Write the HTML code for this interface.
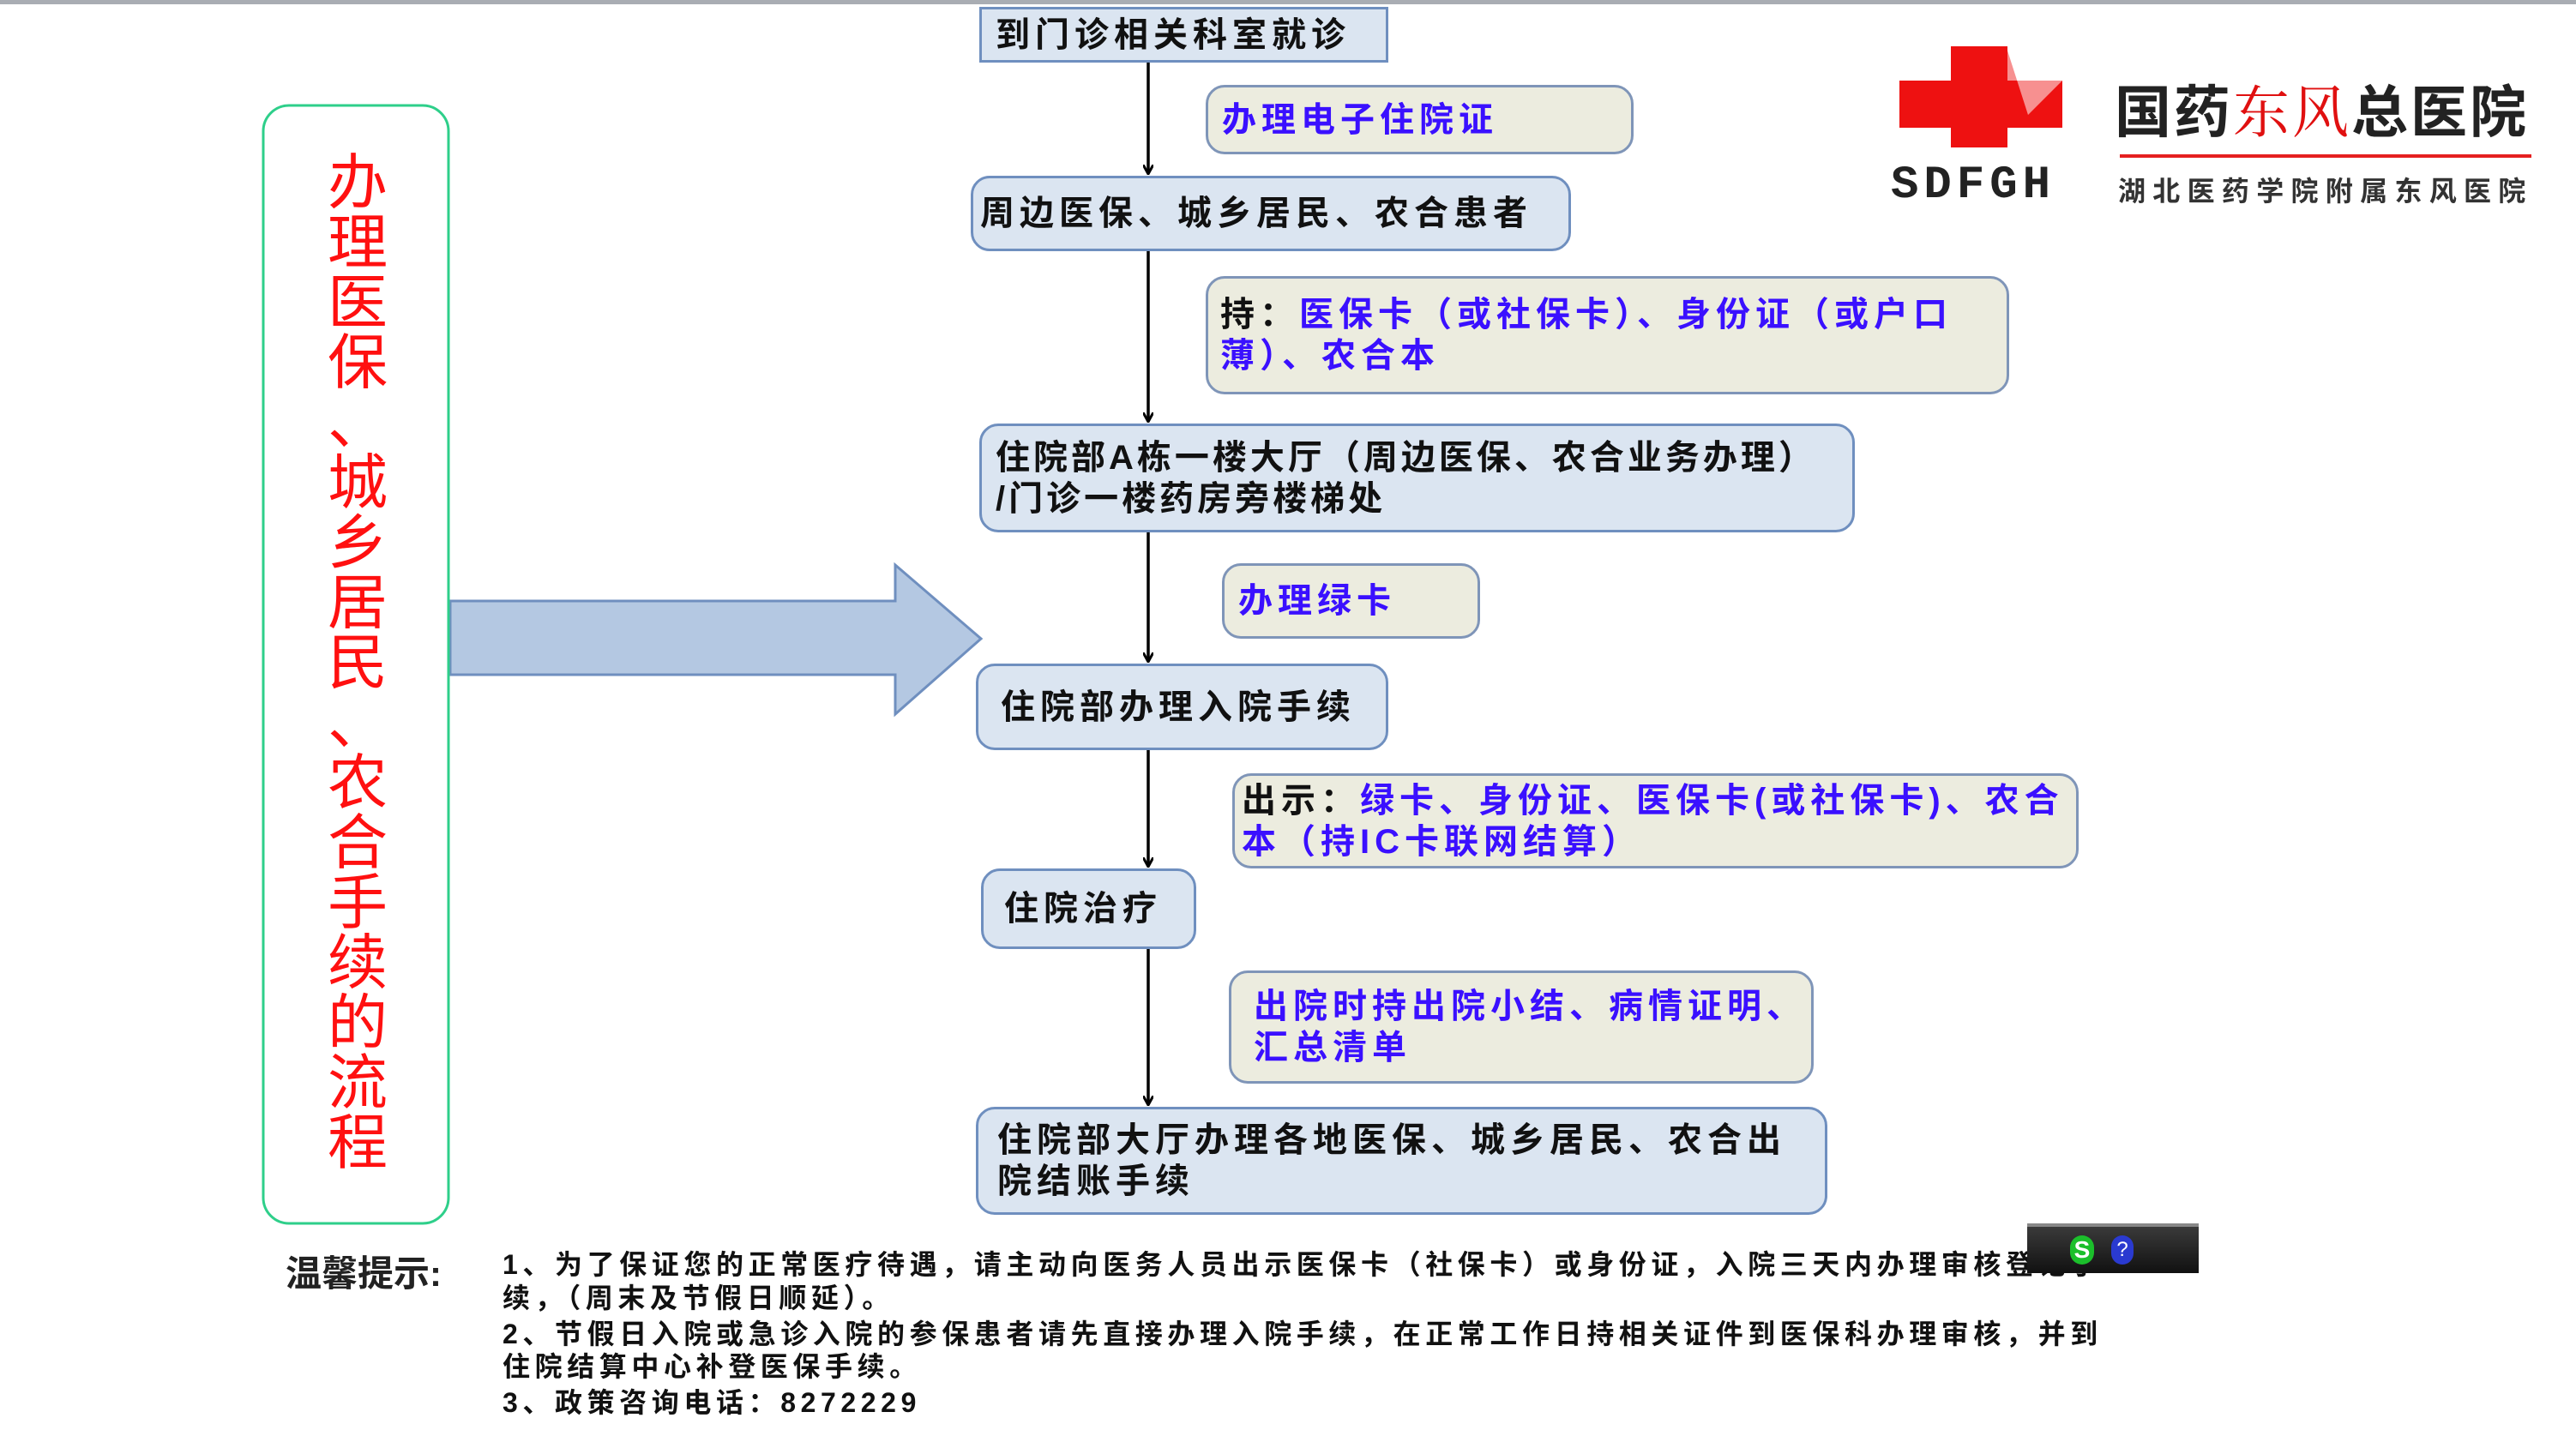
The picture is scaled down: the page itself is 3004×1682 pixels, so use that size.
<!DOCTYPE html>
<html><head><meta charset="utf-8"><style>
*{margin:0;padding:0;box-sizing:border-box}
body{width:3004px;height:1682px;background:#fff;position:relative;overflow:hidden;font-family:"Liberation Sans","Noto Sans CJK SC",sans-serif}
.b{position:absolute;border:3px solid #6f8fbf;background:#dbe5f1;border-radius:22px;font-weight:bold;color:#111;font-size:40px;letter-spacing:6px;line-height:48px;padding:0 0 0 16px;display:flex;align-items:center;white-space:nowrap}
.y{position:absolute;border:3px solid #7f95b8;background:#ececdf;border-radius:22px;font-weight:bold;color:#3a10ff;font-size:40px;letter-spacing:6px;line-height:48px;padding:0 0 0 16px;display:flex;align-items:center;white-space:nowrap}
.k{color:#111}
.n{position:absolute;left:586px;font-size:32px;letter-spacing:5.6px;font-weight:bold;color:#111;white-space:nowrap;line-height:40px}
</style></head><body>
<div style="position:absolute;left:0;top:0;width:3004px;height:5px;background:#a9adb3"></div>

<svg style="position:absolute;left:0;top:0" width="3004" height="1682">
<defs><marker id="a" markerWidth="12" markerHeight="12" refX="10" refY="6" orient="auto" markerUnits="userSpaceOnUse"><path d="M0,0 L11,6 L0,12" fill="none" stroke="#000" stroke-width="3"/></marker></defs>
<g stroke="#000" stroke-width="3.5" marker-end="url(#a)">
<line x1="1339" y1="73" x2="1339" y2="202"/>
<line x1="1339" y1="293" x2="1339" y2="491"/>
<line x1="1339" y1="621" x2="1339" y2="771"/>
<line x1="1339" y1="875" x2="1339" y2="1010"/>
<line x1="1339" y1="1107" x2="1339" y2="1288"/>
</g>
<path d="M525,701 L1044,701 L1044,659 L1144,745 L1044,833 L1044,787 L525,787 Z" fill="#b4c8e2" stroke="#6f8fbf" stroke-width="3"/>
<rect x="307" y="123" width="216" height="1304" rx="30" fill="#fff" stroke="#2ecf8a" stroke-width="3"/>
</svg>

<div style="position:absolute;left:377px;top:178px;width:80px;font-size:70px;line-height:70px;color:#ff1010;text-align:center">办<br>理<br>医<br>保<br>、<br>城<br>乡<br>居<br>民<br>、<br>农<br>合<br>手<br>续<br>的<br>流<br>程</div>

<div class="b" style="left:1142px;top:8px;width:477px;height:65px;border-radius:0">到门诊相关科室就诊</div>
<div class="y" style="left:1406px;top:99px;width:499px;height:81px">办理电子住院证</div>
<div class="b" style="left:1132px;top:205px;width:700px;height:88px;padding-left:8px">周边医保、城乡居民、农合患者</div>
<div class="y" style="left:1406px;top:322px;width:937px;height:138px;padding-left:14px"><div><span class="k">持：</span>医保卡（或社保卡）、身份证（或户口<br>薄）、农合本</div></div>
<div class="b" style="left:1142px;top:494px;width:1021px;height:127px;letter-spacing:4px"><div>住院部A栋一楼大厅（周边医保、农合业务办理）<br>/门诊一楼药房旁楼梯处</div></div>
<div class="y" style="left:1425px;top:657px;width:301px;height:88px">办理绿卡</div>
<div class="b" style="left:1138px;top:774px;width:481px;height:101px;padding-left:26px">住院部办理入院手续</div>
<div class="y" style="left:1437px;top:902px;width:987px;height:111px;padding-left:8px"><div><span class="k">出示：</span>绿卡、身份证、医保卡(或社保卡)、农合<br>本（持IC卡联网结算）</div></div>
<div class="b" style="left:1144px;top:1013px;width:251px;height:94px;padding-left:24px">住院治疗</div>
<div class="y" style="left:1433px;top:1132px;width:682px;height:132px;padding-left:26px"><div>出院时持出院小结、病情证明、<br>汇总清单</div></div>
<div class="b" style="left:1138px;top:1291px;width:993px;height:126px;padding-left:22px"><div>住院部大厅办理各地医保、城乡居民、农合出<br>院结账手续</div></div>

<!-- logo -->
<svg style="position:absolute;left:2215px;top:54px" width="190" height="118">
<path d="M60,0 H126 V40 H190 V95 H126 V118 H60 V95 H0 V40 H60 Z" fill="#ee1111"/>
<path d="M126,5 L126,40 L190,40 L150,80 Z" fill="#f79090"/>
</svg>
<div style="position:absolute;left:2205px;top:186px;font-size:54px;font-weight:bold;color:#222;letter-spacing:6px;font-family:'Liberation Mono',monospace">SDFGH</div>
<div style="position:absolute;left:2466px;top:86px;font-size:66px;font-weight:bold;color:#222;letter-spacing:3px;line-height:80px;white-space:nowrap">国药<span style="color:#e01010;font-family:'Noto Serif CJK SC',serif;font-weight:normal">东风</span>总医院</div>
<div style="position:absolute;left:2472px;top:180px;width:480px;height:4px;background:#e52020"></div>
<div style="position:absolute;left:2470px;top:198px;font-size:32px;font-weight:bold;color:#333;letter-spacing:8.3px;white-space:nowrap">湖北医药学院附属东风医院</div>

<!-- notes -->
<div style="position:absolute;left:333px;top:1452px;font-size:42px;font-weight:bold;color:#222;white-space:nowrap">温馨提示:</div>
<div class="n" style="top:1455px">1、为了保证您的正常医疗待遇，请主动向医务人员出示医保卡（社保卡）或身份证，入院三天内办理审核登记手</div>
<div class="n" style="top:1494px">续，（周末及节假日顺延）。</div>
<div class="n" style="top:1536px">2、节假日入院或急诊入院的参保患者请先直接办理入院手续，在正常工作日持相关证件到医保科办理审核，并到</div>
<div class="n" style="top:1574px">住院结算中心补登医保手续。</div>
<div class="n" style="top:1616px">3、政策咨询电话：8272229</div>

<div style="position:absolute;left:2364px;top:1427px;width:200px;height:58px;background:linear-gradient(#3a3a3a,#111);border-top:4px solid #888">
<div style="position:absolute;left:50px;top:10px;width:28px;height:34px;border-radius:14px;background:#1bbf2b;color:#fff;font-weight:bold;font-size:28px;text-align:center;line-height:34px">S</div>
<div style="position:absolute;left:98px;top:10px;width:26px;height:34px;border-radius:13px;background:#2a3ad0;color:#fff;font-size:24px;text-align:center;line-height:34px">?</div>
</div>
</body></html>
